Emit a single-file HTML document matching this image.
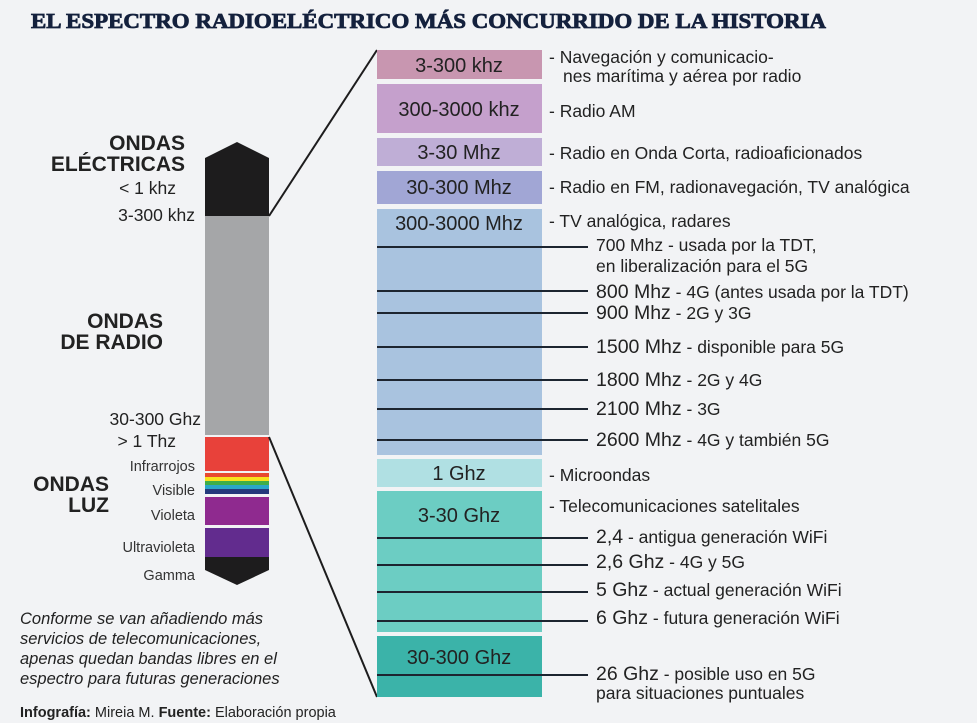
<!DOCTYPE html>
<html><head><meta charset="utf-8"><style>
html,body{margin:0;padding:0;background:#f2f3f5;}
svg{display:block;}
text{font-family:"Liberation Sans",sans-serif;fill:#222;}
.t{font-size:17.5px;}
.b{font-size:20px;}
.h{font-size:21px;font-weight:bold;}
.s{font-size:14.5px;fill:#333;}
</style></head><body>
<svg width="977" height="723" viewBox="0 0 977 723" xmlns="http://www.w3.org/2000/svg">
<rect width="977" height="723" fill="#f2f3f5"/>
<text x="31" y="28" style="font-family:'Liberation Serif',serif;font-weight:bold;font-size:21px;fill:#14213d;stroke:#14213d;stroke-width:0.8" textLength="795" lengthAdjust="spacingAndGlyphs">EL ESPECTRO RADIOELÉCTRICO MÁS CONCURRIDO DE LA HISTORIA</text>

<polygon points="205,158 237,142 269,158 269,216 205,216" fill="#1d1c1d"/>
<rect x="205" y="216" width="64" height="219" fill="#a5a6a8"/>
<rect x="205" y="437" width="64" height="34" fill="#e8413a"/>
<rect x="205" y="473" width="64" height="4" fill="#e84a30"/>
<rect x="205" y="477" width="64" height="4" fill="#f7e21e"/>
<rect x="205" y="481" width="64" height="4" fill="#3fae49"/>
<rect x="205" y="485" width="64" height="4" fill="#2aa7c9"/>
<rect x="205" y="489" width="64" height="5" fill="#253a7c"/>
<rect x="205" y="497" width="64" height="28" fill="#8f2a8f"/>
<rect x="205" y="528" width="64" height="29" fill="#622c8e"/>
<polygon points="205,557 269,557 269,570 237,585 205,570" fill="#1d1c1d"/>
<line x1="269" y1="216" x2="377" y2="50" stroke="#1d1c1d" stroke-width="2"/>
<line x1="269" y1="437" x2="377" y2="697" stroke="#1d1c1d" stroke-width="2"/>

<g text-anchor="end">
<text x="185" y="150" class="h">ONDAS</text>
<text x="185" y="171" class="h">ELÉCTRICAS</text>
<text x="176" y="194" class="t">&lt; 1 khz</text>
<text x="195" y="221" class="t">3-300 khz</text>
<text x="163" y="328" class="h">ONDAS</text>
<text x="163" y="349" class="h">DE RADIO</text>
<text x="201" y="425" class="t">30-300 Ghz</text>
<text x="176" y="447" class="t">&gt; 1 Thz</text>
<text x="195" y="471" class="s">Infrarrojos</text>
<text x="195" y="495" class="s">Visible</text>
<text x="195" y="520" class="s">Violeta</text>
<text x="195" y="552" class="s">Ultravioleta</text>
<text x="195" y="580" class="s">Gamma</text>
<text x="109" y="491" class="h">ONDAS</text>
<text x="109" y="512" class="h">LUZ</text>
</g>
<text x="20" y="624" style="font-style:italic;font-size:16.5px">Conforme se van añadiendo más</text>
<text x="20" y="644" style="font-style:italic;font-size:16.5px">servicios de telecomunicaciones,</text>
<text x="20" y="664" style="font-style:italic;font-size:16.5px">apenas quedan bandas libres en el</text>
<text x="20" y="684" style="font-style:italic;font-size:16.5px">espectro para futuras generaciones</text>
<text x="20" y="717" style="font-size:14.5px"><tspan font-weight="bold">Infografía:</tspan> Mireia M. <tspan font-weight="bold">Fuente:</tspan> Elaboración propia</text>

<rect x="377" y="50" width="165" height="29" fill="#c896b0"/>
<rect x="377" y="84" width="165" height="49" fill="#c5a0cc"/>
<rect x="377" y="138" width="165" height="28" fill="#bfaed6"/>
<rect x="377" y="171" width="165" height="33" fill="#a1a6d5"/>
<rect x="377" y="209" width="165" height="246" fill="#a9c3df"/>
<rect x="377" y="459" width="165" height="28" fill="#b0e0e3"/>
<rect x="377" y="491" width="165" height="141" fill="#6ccdc3"/>
<rect x="377" y="636" width="165" height="61" fill="#3bb3a9"/>
<g text-anchor="middle">
<text x="459" y="72" class="b">3-300 khz</text>
<text x="459" y="116" class="b">300-3000 khz</text>
<text x="459" y="159" class="b">3-30 Mhz</text>
<text x="459" y="194" class="b">30-300 Mhz</text>
<text x="459" y="230" class="b">300-3000 Mhz</text>
<text x="459" y="480" class="b">1 Ghz</text>
<text x="459" y="522" class="b">3-30 Ghz</text>
<text x="459" y="664" class="b">30-300 Ghz</text>
</g>
<g stroke="#1d2530" stroke-width="2">
<line x1="377" y1="247" x2="588" y2="247"/>
<line x1="377" y1="291" x2="588" y2="291"/>
<line x1="377" y1="313" x2="588" y2="313"/>
<line x1="377" y1="347" x2="588" y2="347"/>
<line x1="377" y1="380" x2="588" y2="380"/>
<line x1="377" y1="409" x2="588" y2="409"/>
<line x1="377" y1="440" x2="588" y2="440"/>
<line x1="377" y1="538" x2="588" y2="538"/>
<line x1="377" y1="565" x2="588" y2="565"/>
<line x1="377" y1="592" x2="588" y2="592"/>
<line x1="377" y1="621" x2="588" y2="621"/>
<line x1="377" y1="675" x2="588" y2="675"/>
</g>
<text x="549" y="63" class="t">- Navegación y comunicacio-</text>
<text x="563" y="82" class="t">nes marítima y aérea por radio</text>
<text x="549" y="117" class="t">- Radio AM</text>
<text x="549" y="159" class="t">- Radio en Onda Corta, radioaficionados</text>
<text x="549" y="193" class="t">- Radio en FM, radionavegación, TV analógica</text>
<text x="549" y="227" class="t">- TV analógica, radares</text>
<text x="596" y="251" class="t">700 Mhz - usada por la TDT,</text>
<text x="596" y="272" class="t">en liberalización para el 5G</text>
<text x="596" y="298" class="t"><tspan style="font-size:19.5px">800 Mhz</tspan> - 4G (antes usada por la TDT)</text>
<text x="596" y="319" class="t"><tspan style="font-size:19.5px">900 Mhz</tspan> - 2G y 3G</text>
<text x="596" y="353" class="t"><tspan style="font-size:19.5px">1500 Mhz</tspan> - disponible para 5G</text>
<text x="596" y="386" class="t"><tspan style="font-size:19.5px">1800 Mhz</tspan> - 2G y 4G</text>
<text x="596" y="415" class="t"><tspan style="font-size:19.5px">2100 Mhz</tspan> - 3G</text>
<text x="596" y="446" class="t"><tspan style="font-size:19.5px">2600 Mhz</tspan> - 4G y también 5G</text>
<text x="549" y="481" class="t">- Microondas</text>
<text x="549" y="512" class="t">- Telecomunicaciones satelitales</text>
<text x="596" y="543" class="t"><tspan style="font-size:19.5px">2,4</tspan> - antigua generación WiFi</text>
<text x="596" y="568" class="t"><tspan style="font-size:19.5px">2,6 Ghz</tspan> - 4G y 5G</text>
<text x="596" y="596" class="t"><tspan style="font-size:19.5px">5 Ghz</tspan> - actual generación WiFi</text>
<text x="596" y="624" class="t"><tspan style="font-size:19.5px">6 Ghz</tspan> - futura generación WiFi</text>
<text x="596" y="680" class="t"><tspan style="font-size:19.5px">26 Ghz</tspan> - posible uso en 5G</text>
<text x="596" y="699" class="t">para situaciones puntuales</text>
</svg>
</body></html>
